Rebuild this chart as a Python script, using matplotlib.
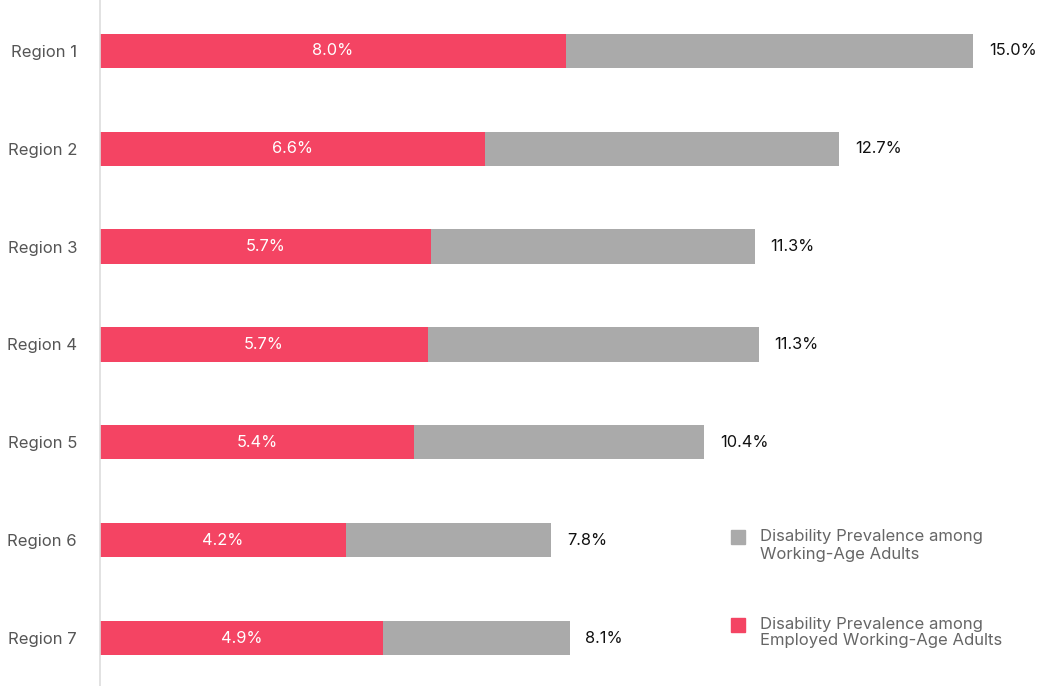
import matplotlib
matplotlib.use("Agg")
import matplotlib.pyplot as plt
from matplotlib.patches import Rectangle

plt.rcParams['font.family'] = ['Inter', 'DejaVu Sans']

regions = ["Region 1", "Region 2", "Region 3", "Region 4", "Region 5", "Region 6", "Region 7"]
total = [15.0, 12.7, 11.25, 11.32, 10.38, 7.75, 8.07]
total_labels = ["15.0%", "12.7%", "11.3%", "11.3%", "10.4%", "7.8%", "8.1%"]
employed = [8.0, 6.62, 5.68, 5.64, 5.4, 4.23, 4.87]
employed_labels = ["8.0%", "6.6%", "5.7%", "5.7%", "5.4%", "4.2%", "4.9%"]
legend_labels = [["Disability Prevalence among", "Working-Age Adults"],
                 ["Disability Prevalence among", "Employed Working-Age Adults"]]

grey = "#AAAAAA"
red = "#F44463"
W, H = 1038, 686

fig = plt.figure(figsize=(W / 100, H / 100), dpi=100)
ax = fig.add_axes([100 / W, 0, 938 / W, 1])

y = list(range(len(regions)))
ax.barh(y, total, height=0.35, color=grey)
ax.barh(y, employed, height=0.35, color=red)

for yi, t, tl, e, el in zip(y, total, total_labels, employed, employed_labels):
    ax.text(t + 0.27, yi, tl, va="center", ha="left", fontsize=11.8, color="#111111")
    ax.text(e / 2, yi, el, va="center", ha="center", fontsize=11.8, color="white")

ax.set_xlim(0, 938 / 58.2)
ax.set_ylim(6.49, -0.52)
ax.set_yticks(y)
ax.set_yticklabels(regions, fontsize=12, color="#555555")
ax.tick_params(axis="y", length=0, pad=16.5)
ax.set_xticks([])
for s in ["top", "right", "bottom"]:
    ax.spines[s].set_visible(False)
ax.spines["left"].set_color("#dddddd")
ax.spines["left"].set_linewidth(1.2)

# legend drawn manually in figure pixel coordinates
for (sq_top, line1_y), color, lines in zip([(530, 537), (618, 624)], [grey, red], legend_labels):
    fig.patches.append(Rectangle((731 / W, 1 - (sq_top + 14) / H), 14 / W, 14 / H,
                                 transform=fig.transFigure, color=color))
    for k, line in enumerate(lines):
        fig.text(760 / W, 1 - (line1_y + 17 * k) / H, line, ha="left", va="center",
                 fontsize=12, color="#666666")

fig.savefig("out.png", dpi=100)
